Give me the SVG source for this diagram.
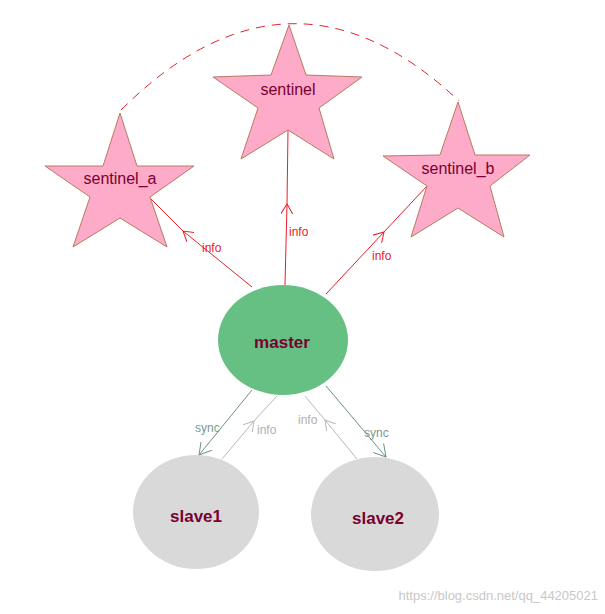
<svg xmlns="http://www.w3.org/2000/svg" width="605" height="614" viewBox="0 0 605 614">
<style>
.star{fill:#fdabc8;stroke:#b87a60;stroke-width:1}
.lbl{font-family:"Liberation Sans",Arial,sans-serif;fill:#7a0030;font-size:16px;text-anchor:middle}
.red{stroke:#e8202a;stroke-width:1;fill:none}
.grn{stroke:#6f9080;stroke-width:1;fill:none}
.gry{stroke:#b8b8b8;stroke-width:1;fill:none}
.ti{font-family:"Liberation Sans",Arial,sans-serif;font-size:12px}
</style>
<defs>
<marker id="ar" markerWidth="12" markerHeight="12" refX="10" refY="6" orient="auto" markerUnits="userSpaceOnUse"><path d="M0,0 L10,6 L0,12" fill="none" stroke="#e8202a"/></marker>
<marker id="ag" markerWidth="14" markerHeight="14" refX="12" refY="7" orient="auto" markerUnits="userSpaceOnUse"><path d="M0,0 L12,7 L0,14" fill="none" stroke="#6f9080"/></marker>
<marker id="ay" markerWidth="12" markerHeight="12" refX="10" refY="6" orient="auto" markerUnits="userSpaceOnUse"><path d="M0,0 L10,6 L0,12" fill="none" stroke="#b8b8b8"/></marker>
</defs>
<rect width="605" height="614" fill="#fff"/>
<g id="connectors">
<path d="M121,110 Q290,-58 459,101" fill="none" stroke="#e8202a" stroke-dasharray="9,7"/>
<path class="red" d="M252,287 L183,231" marker-end="url(#ar)"/><path class="red" d="M183,231 L150,198"/>
<path class="red" d="M285,285 L287,204" marker-end="url(#ar)"/><path class="red" d="M287,204 L288,130"/>
<path class="red" d="M326,294 L384,232" marker-end="url(#ar)"/><path class="red" d="M384,232 L427,186"/>
<path class="grn" d="M252,390 L199,455" marker-end="url(#ag)"/>
<path class="grn" d="M326,386 L386,457" marker-end="url(#ag)"/>
<path class="gry" d="M222,459 L254,421" marker-end="url(#ay)"/><path class="gry" d="M254,421 L277,396"/>
<path class="gry" d="M357,459 L325,420" marker-end="url(#ay)"/><path class="gry" d="M325,420 L305,396"/>
<text class="ti" x="202" y="252" fill="#e8202a">info</text>
<text class="ti" x="289" y="236" fill="#e8202a">info</text>
<text class="ti" x="372" y="260" fill="#e8202a">info</text>
<text class="ti" x="195" y="432" fill="#7a9a90">sync</text>
<text class="ti" x="257" y="434" fill="#b0b0b0">info</text>
<text class="ti" x="298" y="424" fill="#b0b0b0">info</text>
<text class="ti" x="364" y="437" fill="#7a9a90">sync</text>
</g>
<g id="sentinel">
<polygon class="star" points="289,25 306,75 362,77 319,108 334,159 288,130 241,159 258,108 213,77 271,75"/>
<text class="lbl" x="288" y="95">sentinel</text>
</g>
<g id="sentinel_a">
<polygon class="star" points="120,113 137,166 194,166 150,197 167,247 120,218 73,247 90,197 45,166 103,166"/>
<text class="lbl" x="120" y="184">sentinel_a</text>
</g>
<g id="sentinel_b">
<polygon class="star" points="458,102 475,155 530,155 490,186 504,237 458,208 411,237 427,186 383,156 440,155"/>
<text class="lbl" x="458" y="174">sentinel_b</text>
</g>
<g id="master">
<ellipse cx="283" cy="340" rx="65" ry="55" fill="#67c083"/>
<text class="lbl" x="282" y="348" style="font-weight:bold;font-size:17px">master</text>
</g>
<g id="slave1">
<ellipse cx="196" cy="512" rx="63" ry="57" fill="#d9d9d9"/>
<text class="lbl" x="196" y="522" style="font-weight:bold;font-size:17px">slave1</text>
</g>
<g id="slave2">
<ellipse cx="375" cy="514" rx="64" ry="57" fill="#d9d9d9"/>
<text class="lbl" x="378" y="524" style="font-weight:bold;font-size:17px">slave2</text>
</g>
<text x="598" y="600" text-anchor="end" font-family="Liberation Sans,Arial,sans-serif" font-size="13" fill="#c8c8c8">https://blog.csdn.net/qq_44205021</text>
</svg>
